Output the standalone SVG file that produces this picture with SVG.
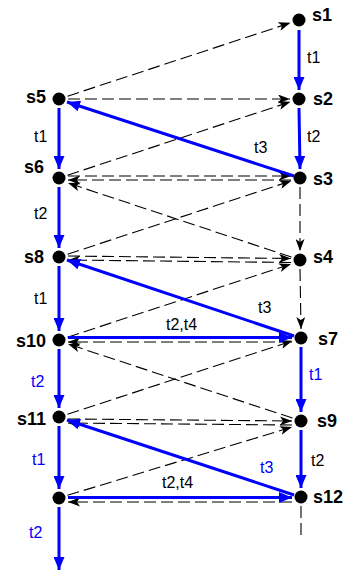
<svg xmlns="http://www.w3.org/2000/svg" width="349" height="573" viewBox="0 0 349 573">
<defs>
<style>
.nd{fill:#000}
.nl{font-family:"Liberation Sans",Arial,sans-serif;font-weight:bold;font-size:18px;fill:#000}
.el{font-family:"Liberation Sans",Arial,sans-serif;font-size:16px;fill:#000}
.eb{font-family:"Liberation Sans",Arial,sans-serif;font-size:16px;fill:#0000ff}
.d{stroke:#000;stroke-width:1.1;fill:none;stroke-dasharray:12,5}
.da{stroke:#000;stroke-width:1.1;fill:none;stroke-dasharray:12,5;marker-end:url(#ad)}
.b{stroke:#0000ff;stroke-width:3;fill:none;marker-end:url(#ab)}
</style>
<marker id="ad" markerUnits="userSpaceOnUse" markerWidth="13" markerHeight="9" refX="12" refY="4.5" orient="auto">
<path d="M0,0 L12,4.5 L0,9 L3,4.5 z" fill="#000"/>
</marker>
<marker id="ab" markerUnits="userSpaceOnUse" markerWidth="14" markerHeight="11" refX="13" refY="5.5" orient="auto">
<path d="M0,0 L13,5.5 L0,11 z" fill="#0000ff"/>
</marker>
</defs>
<g id="connectors">
<line class="da" x1="67.5" y1="96.2" x2="290.5" y2="22.8"/>
<line class="da" x1="68" y1="99" x2="290" y2="99"/>
<line class="da" x1="67.5" y1="175.2" x2="290.5" y2="101.8"/>
<line class="da" x1="68" y1="176" x2="291" y2="176"/>
<line class="da" x1="291" y1="180" x2="68" y2="180"/>
<line class="da" x1="291.5" y1="257.1" x2="68" y2="183"/>
<line class="da" x1="300" y1="187" x2="300" y2="251"/>
<line class="da" x1="67.5" y1="254.2" x2="291.5" y2="180.8"/>
<line class="da" x1="68" y1="256" x2="291" y2="258.5"/>
<line class="da" x1="291" y1="262.5" x2="68" y2="260"/>
<line class="da" x1="67.5" y1="337.2" x2="291" y2="264"/>
<line class="da" x1="300" y1="269" x2="301" y2="329"/>
<line class="da" x1="292" y1="342" x2="68" y2="342"/>
<line class="da" x1="292.5" y1="418.1" x2="68" y2="344"/>
<line class="da" x1="67.5" y1="414.2" x2="292.5" y2="340.8"/>
<line class="da" x1="68" y1="419" x2="292" y2="421"/>
<line class="da" x1="292" y1="425" x2="68" y2="423"/>
<line class="da" x1="67.5" y1="495.3" x2="292" y2="427"/>
<line class="da" x1="292" y1="502" x2="68" y2="502"/>
<line class="d" x1="301" y1="506" x2="301" y2="540"/>
<line class="b" x1="299" y1="30" x2="299" y2="90"/>
<line class="b" x1="299" y1="108" x2="300" y2="169"/>
<line class="b" x1="294" y1="176" x2="67" y2="102"/>
<line class="b" x1="59" y1="108" x2="59" y2="169"/>
<line class="b" x1="59" y1="187" x2="59" y2="248"/>
<line class="b" x1="294" y1="336" x2="67" y2="260"/>
<line class="b" x1="59" y1="266" x2="59" y2="331"/>
<line class="b" x1="68" y1="337.5" x2="292" y2="337.5"/>
<line class="b" x1="59" y1="349" x2="59" y2="408"/>
<line class="b" x1="301" y1="347" x2="301" y2="412"/>
<line class="b" x1="294" y1="495" x2="67" y2="420"/>
<line class="b" x1="301" y1="430" x2="301" y2="488"/>
<line class="b" x1="59" y1="426" x2="59" y2="489"/>
<line class="b" x1="68" y1="497.5" x2="292" y2="497.5"/>
<line class="b" x1="59" y1="507" x2="59" y2="570"/>
<text class="el" x="307" y="63">t1</text>
<text class="el" x="307" y="142">t2</text>
<text class="el" x="254" y="153">t3</text>
<text class="el" x="34" y="142">t1</text>
<text class="el" x="34" y="219">t2</text>
<text class="el" x="34" y="304">t1</text>
<text class="el" x="258" y="313">t3</text>
<text class="el" x="166" y="330">t2,t4</text>
<text class="eb" x="31" y="387">t2</text>
<text class="eb" x="309" y="380">t1</text>
<text class="eb" x="260" y="473">t3</text>
<text class="el" x="311" y="466">t2</text>
<text class="eb" x="32" y="465">t1</text>
<text class="el" x="162" y="488">t2,t4</text>
<text class="eb" x="29" y="538">t2</text>
</g>
<g id="s1"><circle class="nd" cx="299" cy="20" r="6.5"/><text class="nl" x="312" y="21">s1</text></g>
<g id="s2"><circle class="nd" cx="299" cy="99" r="6.5"/><text class="nl" x="313" y="105">s2</text></g>
<g id="s5"><circle class="nd" cx="59" cy="99" r="6.5"/><text class="nl" x="46" y="103" text-anchor="end">s5</text></g>
<g id="s6"><circle class="nd" cx="59" cy="178" r="6.5"/><text class="nl" x="44" y="173" text-anchor="end">s6</text></g>
<g id="s3"><circle class="nd" cx="300" cy="178" r="6.5"/><text class="nl" x="313" y="185">s3</text></g>
<g id="s8"><circle class="nd" cx="59" cy="257" r="6.5"/><text class="nl" x="44" y="263" text-anchor="end">s8</text></g>
<g id="s4"><circle class="nd" cx="300" cy="260" r="6.5"/><text class="nl" x="313" y="263">s4</text></g>
<g id="s10"><circle class="nd" cx="59" cy="340" r="6.5"/><text class="nl" x="46" y="347" text-anchor="end">s10</text></g>
<g id="s7"><circle class="nd" cx="301" cy="338" r="6.5"/><text class="nl" x="318" y="345">s7</text></g>
<g id="s11"><circle class="nd" cx="59" cy="417" r="6.5"/><text class="nl" x="46" y="425" text-anchor="end">s11</text></g>
<g id="s9"><circle class="nd" cx="301" cy="421" r="6.5"/><text class="nl" x="317" y="427">s9</text></g>
<g id="n13"><circle class="nd" cx="59" cy="498" r="6.5"/></g>
<g id="s12"><circle class="nd" cx="301" cy="497" r="6.5"/><text class="nl" x="313" y="503">s12</text></g>
</svg>
